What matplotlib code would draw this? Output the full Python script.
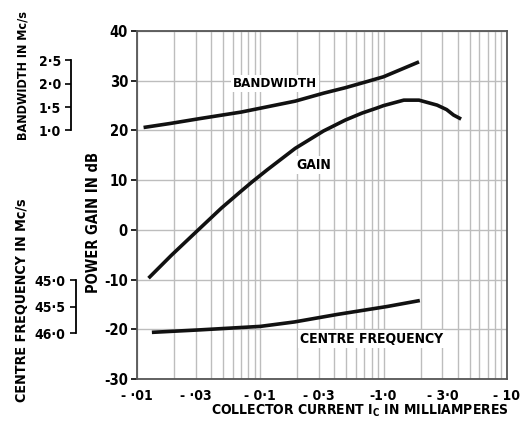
import matplotlib
matplotlib.use("Agg")
import matplotlib.pyplot as plt
from matplotlib.ticker import FixedLocator, NullFormatter

plt.rcParams['font.family'] = ['DejaVu Sans']
plt.rcParams['font.stretch'] = 'condensed'
plt.rcParams['font.weight'] = 'bold'
plt.rcParams['axes.labelweight'] = 'bold'

# collector current (mA, magnitude) and curves in dB units of the main axis
bw_x = [0.0113, 0.0185, 0.0325, 0.07, 0.192, 0.326, 0.49, 0.75, 1.0, 1.94]
bw_y = [20.6, 21.4, 22.4, 23.7, 25.9, 27.5, 28.6, 29.9, 30.8, 33.8]

gain_x = [0.0124, 0.019, 0.0323, 0.0484, 0.0684, 0.0862, 0.114, 0.192, 0.326,
          0.49, 0.67, 0.88, 1.0, 1.46, 1.94, 2.72, 3.25, 3.7, 4.26]
gain_y = [-9.7, -5.1, 0.3, 4.4, 7.6, 9.7, 12.1, 16.4, 19.9,
          22.1, 23.5, 24.5, 25.0, 26.1, 26.1, 25.1, 24.2, 23.1, 22.3]

cf_x = [0.0132, 0.0323, 0.1, 0.19, 0.42, 1.07, 1.97]
cf_y = [-20.6, -20.1, -19.4, -18.5, -17.0, -15.4, -14.2]

x_ticks = [0.01, 0.03, 0.1, 0.3, 1.0, 3.0, 10.0]
x_labels = ["- ·01", "- ·03", "- 0·1", "- 0·3", "-1·0", "- 3·0", "- 10"]
y_ticks = [-30, -20, -10, 0, 10, 20, 30, 40]
y_labels = ["-30", "-20", "-10", "0", "10", "20", "30", "40"]

bw_ticks = [1.0, 1.5, 2.0, 2.5]
bw_labels = ["1·0", "1·5", "2·0", "2·5"]
cf_ticks = [45.0, 45.5, 46.0]
cf_labels = ["45·0", "45·5", "46·0"]

fig = plt.figure(figsize=(5.23, 4.25), dpi=100)
ax = fig.add_axes([0.262, 0.108, 0.707, 0.819])

ax.set_xscale('log')
ax.set_xlim(0.01, 10)
ax.set_ylim(-30, 40)

minor = [m * 10.0 ** e for e in (-2, -1, 0) for m in range(2, 10)]
ax.xaxis.set_minor_locator(FixedLocator(minor))
ax.xaxis.set_minor_formatter(NullFormatter())
ax.set_xticks(x_ticks)
ax.set_xticklabels(x_labels)
ax.set_yticks(y_ticks)
ax.set_yticklabels(y_labels)
ax.grid(True, which='both', axis='x', color='#bdbdbd', lw=1.0)
ax.grid(True, which='major', axis='y', color='#bdbdbd', lw=1.0)
ax.tick_params(axis='x', which='both', length=0, labelsize=10, pad=7)
ax.tick_params(axis='y', length=4, labelsize=10.5, width=1.2, pad=2.5)
for s in ax.spines.values():
    s.set_color('#555555')
    s.set_linewidth(1.3)

ax.plot(bw_x, bw_y, color='#111111', lw=2.6, solid_capstyle='butt')
ax.plot(gain_x, gain_y, color='#111111', lw=2.6, solid_capstyle='butt')
ax.plot(cf_x, cf_y, color='#111111', lw=2.6, solid_capstyle='butt')

box = dict(facecolor='white', edgecolor='none', pad=1.5)
ax.text(0.06, 29.5, "BANDWIDTH", fontsize=9.5, ha='left', va='center', bbox=box)
ax.text(0.196, 13.0, "GAIN", fontsize=10, ha='left', va='center', bbox=box)
ax.text(0.21, -21.9, "CENTRE FREQUENCY", fontsize=10, ha='left', va='center', bbox=box)

ax.set_xlabel("COLLECTOR CURRENT $\\mathbf{I_C}$ IN MILLIAMPERES", fontsize=10)
ax.xaxis.set_label_coords(0.603, -0.067)
ax.xaxis.label.set_va('top')
ax.set_ylabel("POWER GAIN IN dB", fontsize=10.5)
ax.yaxis.set_label_coords(-0.097, 0.45)

# bandwidth scale: 1.0 Mc/s at 20 dB, 9.4 dB per Mc/s
bw_ax = ax.secondary_yaxis(-0.178, functions=(lambda d: 1 + (d - 20) / 9.4,
                                               lambda b: 20 + (b - 1) * 9.4))
bw_ax.set_yticks(bw_ticks)
bw_ax.set_yticklabels(bw_labels)
bw_ax.spines['left'].set_bounds(1.0, 2.5)
bw_ax.spines['left'].set_linewidth(1.3)
bw_ax.tick_params(length=4, labelsize=10, width=1.2)
bw_ax.set_ylabel("BANDWIDTH IN Mc/s", fontsize=9)
bw_ax.yaxis.set_label_coords(-0.292, 0.873, transform=ax.transAxes)

# centre frequency scale: 46.0 at -20.8 dB, 45.0 at -10.1 dB
cf_ax = ax.secondary_yaxis(-0.165, functions=(lambda d: 46 - (d + 20.8) / 10.7,
                                               lambda f: -20.8 + (46 - f) * 10.7))
cf_ax.set_yticks(cf_ticks)
cf_ax.set_yticklabels(cf_labels)
cf_ax.spines['left'].set_bounds(45.0, 46.0)
cf_ax.spines['left'].set_linewidth(1.3)
cf_ax.tick_params(length=4, labelsize=10, width=1.2)
cf_ax.set_ylabel("CENTRE FREQUENCY IN Mc/s", fontsize=10.3)
cf_ax.yaxis.set_label_coords(-0.292, 0.227, transform=ax.transAxes)

fig.savefig("out.png", dpi=100)
